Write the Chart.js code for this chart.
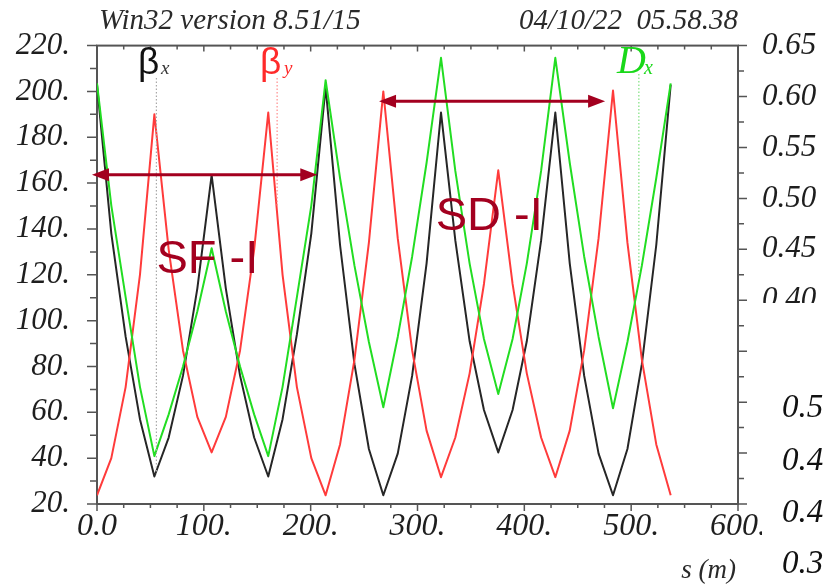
<!DOCTYPE html>
<html>
<head>
<meta charset="utf-8">
<script src="https://cdn.jsdelivr.net/npm/chart.js@4.4.1/dist/chart.umd.min.js"></script>
<style>
  html, body { margin: 0; padding: 0; background: #fff; }
  #contenedor { width: 828px; height: 584px; }
</style>
</head>
<body>
<div id="contenedor"><canvas id="grafica" width="828" height="584"></canvas></div>
<script>
// 📍 Posición a lo largo del anillo, s (m)
const posiciones = [0, 13.4, 26.8, 40.2, 53.7, 67.1, 80.5, 93.9, 107.3, 120.6, 133.9, 147.1, 160.3,
  173.7, 187.1, 200.6, 214, 227.5, 241, 254.5, 268, 281.5, 295, 308.5, 322, 335.4, 348.8, 362.2,
  375.6, 389, 402.3, 415.7, 429, 442.5, 456, 469.5, 483, 496.5, 510, 523.5, 537];

// βx (m), eje izquierdo
const betaX = [203, 138, 93, 57, 32, 49, 76, 114, 163.5, 114, 76, 49, 32, 57, 94, 138, 202,
  133, 81, 44, 23.8, 42, 76, 125, 190.8, 135, 91, 61, 42.5, 61, 91, 135, 190.8, 125, 76, 42, 23.8,
  44, 81, 133, 203];

// βy (m), eje izquierdo
const betaY = [23.8, 40, 71, 120, 190, 131, 87, 58, 42.5, 58, 87, 131, 190.8, 120, 71, 40, 23.8,
  46, 83, 134, 200, 136, 87, 52, 31.7, 49, 77, 116, 165.6, 116, 77, 49, 31.7, 52, 87, 136, 200.4,
  134, 83, 46, 23.8];

// Dx (m), eje derecho
const dispersionX = [0.613, 0.493, 0.403, 0.315, 0.247, 0.288, 0.335, 0.389, 0.451, 0.389, 0.335,
  0.288, 0.247, 0.315, 0.403, 0.493, 0.616, 0.520, 0.434, 0.359, 0.295, 0.364, 0.443, 0.535, 0.638,
  0.527, 0.436, 0.362, 0.308, 0.362, 0.436, 0.527, 0.638, 0.535, 0.443, 0.364, 0.294, 0.359, 0.434,
  0.520, 0.613];

// Textos de cabecera y etiquetas sueltas del margen derecho
const cabecera = ["Win32 version 8.51/15", "04/10/22  05.58.38"];
const etiquetasSueltas = ["0.5", "0.4", "0.4", "0.3"];

const ROJO_OSCURO = '#a3001f';
const serifItalica = (px) => `italic ${px}px "Liberation Serif", "DejaVu Serif", serif`;

const puntos = (ys) => posiciones.map((s, i) => ({ x: s, y: ys[i] }));

// ✏️ Marco y marcas de los ejes (dibujadas con las escalas de Chart.js)
const marcasEjes = {
  id: 'marcasEjes',
  beforeDatasetsDraw(chart) {
    const { ctx, chartArea: a, scales } = chart;
    ctx.save();
    ctx.strokeStyle = '#555';
    ctx.lineWidth = 2;
    ctx.strokeRect(a.left, a.top, a.right - a.left, a.bottom - a.top);

    ctx.lineWidth = 1.5;
    ctx.beginPath();
    // eje s: abajo hacia fuera, arriba hacia dentro
    for (let v = 0; v <= 600; v += 25) {
      const px = scales.x.getPixelForValue(v);
      const mayor = v % 100 === 0;
      ctx.moveTo(px, a.bottom); ctx.lineTo(px, a.bottom + (mayor ? 7 : 4));
      ctx.moveTo(px, a.top); ctx.lineTo(px, a.top + (mayor ? 6 : 4));
    }
    // eje izquierdo
    for (let v = 20; v <= 220; v += 10) {
      const py = scales.y.getPixelForValue(v);
      ctx.moveTo(a.left, py); ctx.lineTo(a.left - (v % 20 === 0 ? 10 : 7), py);
    }
    // eje derecho
    for (let k = 0; k <= 18; k++) {
      const py = scales.y2.getPixelForValue(0.2 + k * 0.025);
      ctx.moveTo(a.right, py); ctx.lineTo(a.right + (k % 2 === 0 ? 9 : 6), py);
    }
    ctx.stroke();
    ctx.restore();
  }
};

// 🏷️ Anotaciones: etiquetas de curvas, flechas y textos
const anotaciones = {
  id: 'anotaciones',
  afterDatasetsDraw(chart) {
    const { ctx, scales } = chart;
    const X = (s) => scales.x.getPixelForValue(s);
    const Y = (v) => scales.y.getPixelForValue(v);
    const Y2 = (v) => scales.y2.getPixelForValue(v);

    ctx.save();

    // líneas punteadas de las etiquetas
    ctx.lineWidth = 1.2;
    ctx.setLineDash([1.5, 2]);
    [[X(55.6), 78, Y(33), '#a8a8a8'],
     [X(168.6), 78, Y(150), '#ff8c8c'],
     [X(507.2), 74, Y2(0.425), '#7fe07f']].forEach(([x, y0, y1, c]) => {
      ctx.strokeStyle = c;
      ctx.beginPath(); ctx.moveTo(x, y0); ctx.lineTo(x, y1); ctx.stroke();
    });
    ctx.setLineDash([]);

    // β y D con subíndice
    ctx.textBaseline = 'alphabetic';
    ctx.textAlign = 'left';
    ctx.font = '37px "Liberation Sans", Arial, sans-serif';
    ctx.fillStyle = '#111';
    ctx.fillText('β', 138, 74);
    ctx.fillStyle = '#ff2a2a';
    ctx.fillText('β', 260, 74);
    ctx.font = serifItalica(19);
    ctx.fillStyle = '#333';
    ctx.fillText('x', 161, 74);
    ctx.fillStyle = '#ff2a2a';
    ctx.fillText('y', 284, 74);
    ctx.fillStyle = '#19d819';
    ctx.font = serifItalica(40);
    ctx.fillText('D', 617, 73);
    ctx.font = serifItalica(20);
    ctx.fillText('x', 644, 74);

    // flechas dobles
    const flecha = (s0, s1, v) => {
      const x0 = X(s0), x1 = X(s1), y = Y(v);
      ctx.strokeStyle = ROJO_OSCURO;
      ctx.fillStyle = ROJO_OSCURO;
      ctx.lineWidth = 3;
      ctx.beginPath(); ctx.moveTo(x0 + 12, y); ctx.lineTo(x1 - 12, y); ctx.stroke();
      ctx.beginPath();
      ctx.moveTo(x0, y); ctx.lineTo(x0 + 17, y - 6.5); ctx.lineTo(x0 + 17, y + 6.5); ctx.closePath();
      ctx.moveTo(x1, y); ctx.lineTo(x1 - 17, y - 6.5); ctx.lineTo(x1 - 17, y + 6.5); ctx.closePath();
      ctx.fill();
    };
    flecha(-4.7, 206.2, 163.7);
    flecha(264, 475.6, 195.7);

    ctx.font = '47px "Liberation Sans", Arial, sans-serif';
    ctx.fillStyle = ROJO_OSCURO;
    ctx.fillText('SF -I', X(55.6), Y(121));
    ctx.fillText('SD -I', X(317), Y(139.6));
    ctx.restore();
  },
  afterDraw(chart) {
    const { ctx, chartArea: a } = chart;
    ctx.save();
    // cabecera
    ctx.font = serifItalica(29);
    ctx.fillStyle = '#2a2a2a';
    ctx.textBaseline = 'alphabetic';
    ctx.textAlign = 'left';
    ctx.fillText(cabecera[0], a.left + 2, 29);
    ctx.textAlign = 'right';
    ctx.fillText(cabecera[1], a.right, 29);

    // título del eje s
    ctx.font = serifItalica(27);
    ctx.fillText('s (m)', a.right - 2, 578);

    // recorte blanco en la parte baja del eje derecho y sus etiquetas sueltas
    ctx.fillStyle = '#fff';
    ctx.fillRect(762, 303, 66, 281);
    ctx.font = serifItalica(33);
    ctx.fillStyle = '#111';
    ctx.textAlign = 'left';
    [417, 470, 522, 573].forEach((y, i) => ctx.fillText(etiquetasSueltas[i], 782, y));
    ctx.restore();
  }
};

const grafica = new Chart(document.getElementById('grafica'), {
  type: 'line',
  data: {
    datasets: [
      { label: 'Dx', data: puntos(dispersionX), borderColor: '#22dd22', yAxisID: 'y2' },
      { label: 'βy', data: puntos(betaY), borderColor: '#ff3b3b', yAxisID: 'y' },
      { label: 'βx', data: puntos(betaX), borderColor: '#262626', yAxisID: 'y' }
    ]
  },
  options: {
    responsive: false,
    animation: false,
    devicePixelRatio: 1,
    layout: { padding: { top: 41, left: 0, right: 0, bottom: 0 } },
    elements: {
      line: { borderWidth: 2, tension: 0, borderJoinStyle: 'round' },
      point: { radius: 0 }
    },
    plugins: { legend: { display: false }, tooltip: { enabled: false } },
    scales: {
      x: {
        type: 'linear', min: 0, max: 600,
        grid: { display: false, drawTicks: false },
        border: { display: false },
        ticks: {
          stepSize: 100, maxRotation: 0, autoSkip: false, padding: 3,
          color: '#1e1e1e', font: { family: '"Liberation Serif"', style: 'italic', size: 32 },
          callback: (v) => (v === 0 ? '0.0' : v + '.')
        },
        afterFit: (s) => { s.height = 80; }
      },
      y: {
        position: 'left', min: 20, max: 220,
        grid: { display: false, drawTicks: false },
        border: { display: false },
        ticks: {
          stepSize: 20, padding: 27,
          color: '#1e1e1e', font: { family: '"Liberation Serif"', style: 'italic', size: 31 },
          callback: (v) => v + '.'
        },
        afterFit: (s) => { s.width = 97; }
      },
      y2: {
        position: 'right', min: 0.2, max: 0.65,
        grid: { display: false, drawTicks: false },
        border: { display: false },
        ticks: {
          stepSize: 0.05, padding: 24,
          color: '#1e1e1e', font: { family: '"Liberation Serif"', style: 'italic', size: 31 },
          callback: (v) => (v > 0.39 ? v.toFixed(2) : '')
        },
        afterFit: (s) => { s.width = 90; }
      }
    }
  },
  plugins: [marcasEjes, anotaciones]
});
</script>
</body>
</html>
